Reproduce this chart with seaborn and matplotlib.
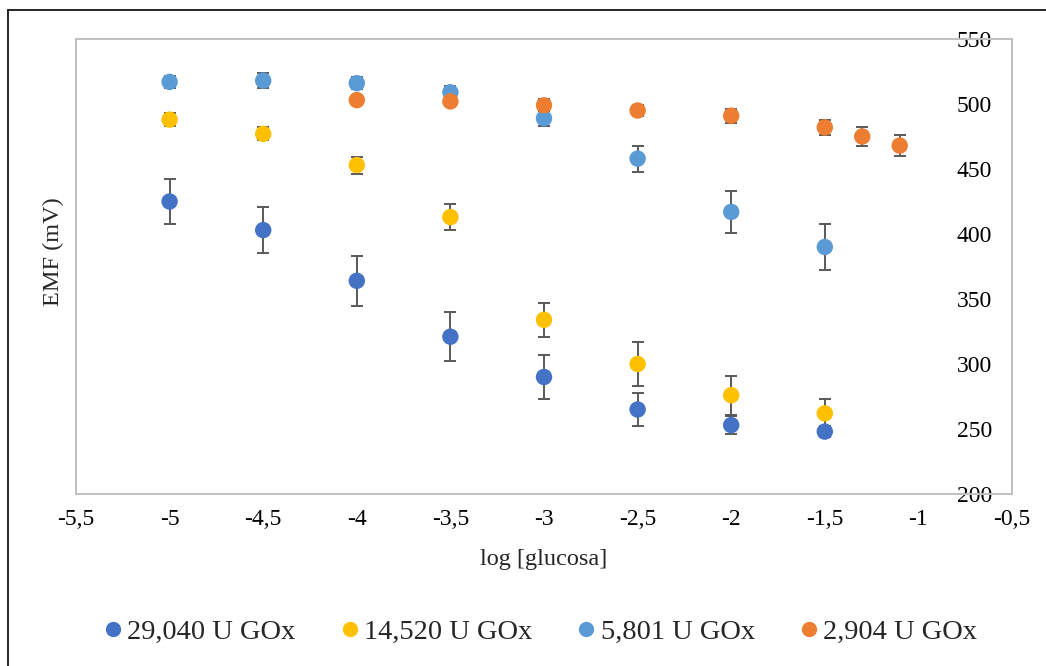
import matplotlib
matplotlib.use("Agg")
import matplotlib.pyplot as plt
import seaborn as sns
import pandas as pd
from matplotlib.ticker import FuncFormatter, FixedLocator
from matplotlib.lines import Line2D

# ---- data ----
x_main = [-5, -4.5, -4, -3.5, -3, -2.5, -2, -1.5]
x_orange = [-4, -3.5, -3, -2.5, -2, -1.5, -1.3, -1.1]

emf_29040 = [425, 403, 364, 321, 290, 265, 253, 248]
err_29040 = [17, 17.5, 19, 19, 17, 12.5, 7, 4]

emf_14520 = [488, 477, 453, 413, 334, 300, 276, 262]
err_14520 = [5, 5, 6.5, 10, 13, 17, 15, 11]

emf_5801 = [517, 518, 516, 509, 489, 458, 417, 390]
err_5801 = [4.7, 5.5, 4.7, 4.7, 6, 10, 16, 18]

emf_2904 = [503, 502, 499, 495, 491, 482, 475, 468]
err_2904 = [2, 3, 4.5, 4.5, 5.5, 5.5, 7, 8]

labels = ["29,040 U GOx", "14,520 U GOx", "5,801 U GOx", "2,904 U GOx"]
colors = ["#4472C4", "#FFC000", "#5B9BD5", "#ED7D31"]

x_ticks = [-5.5, -5, -4.5, -4, -3.5, -3, -2.5, -2, -1.5, -1, -0.5]
y_ticks = [200, 250, 300, 350, 400, 450, 500, 550]

series = [
    (x_main, emf_29040, err_29040),
    (x_main, emf_14520, err_14520),
    (x_main, emf_5801, err_5801),
    (x_orange, emf_2904, err_2904),
]

sns.set_theme(style="white")
plt.rcParams["font.family"] = ["Liberation Serif", "DejaVu Serif"]

fig = plt.figure(figsize=(10.46, 6.66), dpi=100)
ax = fig.add_axes([76 / 1046, 1 - 494 / 666, (1012 - 76) / 1046, (494 - 39) / 666])

frames = []
for (xs, ys, es), lab in zip(series, labels):
    frames.append(pd.DataFrame({"x": xs, "y": ys, "err": es, "series": lab}))
df = pd.concat(frames, ignore_index=True)

for lab, col in zip(labels, colors):
    d = df[df["series"] == lab]
    ax.errorbar(d["x"], d["y"], yerr=d["err"], fmt="none", ecolor="#595959",
                elinewidth=1.4, capsize=4.6, capthick=1.4, zorder=2)
    sns.scatterplot(data=d, x="x", y="y", color=col, s=140, edgecolor="none",
                    linewidth=0, ax=ax, zorder=3, label=lab, legend=False)

ax.set_xlim(-5.5, -0.5)
ax.set_ylim(200, 550)
ax.xaxis.set_major_locator(FixedLocator(x_ticks))
ax.yaxis.set_major_locator(FixedLocator(y_ticks))
fmt = FuncFormatter(lambda v, p: f"{v:g}".replace(".", ","))
ax.xaxis.set_major_formatter(fmt)
ax.yaxis.set_major_formatter(FuncFormatter(lambda v, p: f"{v:g}"))

ax.yaxis.tick_right()
ax.tick_params(axis="x", length=0, pad=10.5, labelsize=17, colors="black")
ax.tick_params(axis="y", length=0, pad=-14.4, labelsize=17, colors="black",
               labelright=True, labelleft=False)
for t in ax.get_yticklabels():
    t.set_horizontalalignment("right")

for sp in ax.spines.values():
    sp.set_visible(True)
    sp.set_color("#BFBFBF")
    sp.set_linewidth(1.4)

ax.set_xlabel("log [glucosa]", fontsize=17.5, labelpad=14)
ax.set_ylabel("EMF (mV)", fontsize=17.5)
ax.yaxis.set_label_position("left")
ax.yaxis.set_label_coords(-0.024, 0.532)
ax.yaxis.label.set_verticalalignment("center")

handles = [Line2D([], [], marker="o", linestyle="none", markersize=11,
                  markerfacecolor=c, markeredgecolor="none") for c in colors]
fig.legend(handles, labels, loc="center", bbox_to_anchor=(0.513, 1 - 632 / 666),
           ncol=4, frameon=False, fontsize=20.5, handletextpad=-0.1,
           columnspacing=1.3, handlelength=1.2)

# chart border (left and top visible)
fig.add_artist(Line2D([8 / 1046, 8 / 1046], [0, 1 - 10 / 666], color="black",
                      linewidth=1.2, transform=fig.transFigure))
fig.add_artist(Line2D([8 / 1046, 1], [1 - 10 / 666, 1 - 10 / 666], color="black",
                      linewidth=1.2, transform=fig.transFigure))

fig.savefig("out.png", dpi=100)
